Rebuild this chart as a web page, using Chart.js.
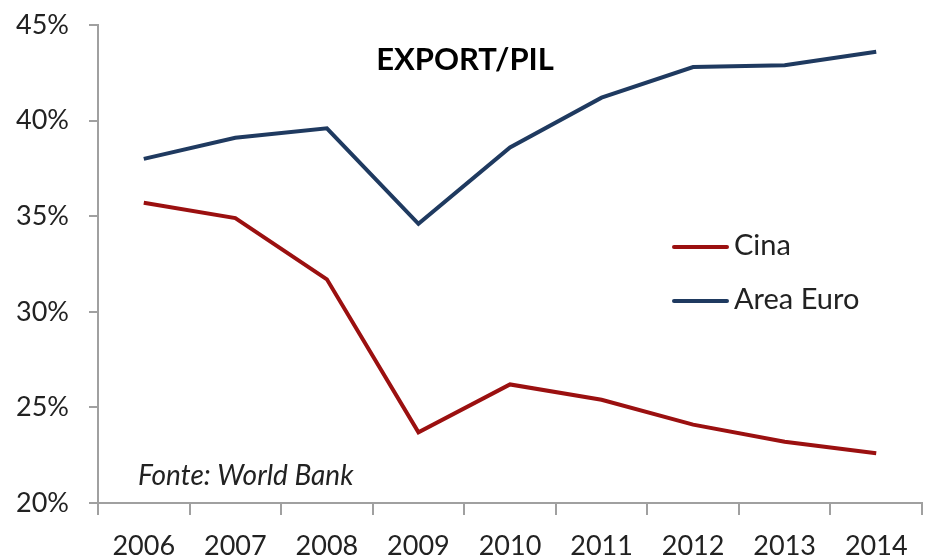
<!DOCTYPE html>
<html>
<head>
<meta charset="utf-8">
<script src="https://cdn.jsdelivr.net/npm/chart.js@4/dist/chart.umd.min.js"></script>
<style>
  html, body { margin: 0; padding: 0; background: #fff; }
  #wrap { width: 926px; height: 557px; }
</style>
</head>
<body>
<div id="wrap"><canvas id="export_chart"></canvas></div>
<script>
// Years along the x-axis
var years = ["2006","2007","2008","2009","2010","2011","2012","2013","2014"];

// Export as % of GDP
var cina = [35.7, 34.9, 31.7, 23.7, 26.2, 25.4, 24.1, 23.2, 22.6];
var areaEuro = [38.0, 39.1, 39.6, 34.6, 38.6, 41.2, 42.8, 42.9, 43.6];

var FONT = "Lato, 'Open Sans', sans-serif";
var AXIS_GREY = "#a0a0a0";

// title, source note and the legend drawn inside the plot area
var overlay = {
    id: "overlay",
    afterDraw: function (chart) {
        var c = chart.ctx;
        var a = chart.chartArea;
        c.save();
        c.fillStyle = "#000";
        c.textBaseline = "middle";
        c.textAlign = "center";
        c.font = "bold 31px " + FONT;
        c.fillText("EXPORT/PIL", 465, 60);

        c.textAlign = "left";
        c.font = "italic 28px " + FONT;
        c.fillStyle = "#222";
        c.fillText("Fonte: World Bank", a.left + 40, 476);

        c.font = "29px " + FONT;
        c.lineCap = "round";
        chart.data.datasets.forEach(function (ds, i) {
            var y = 246 + i * 54;
            c.strokeStyle = ds.borderColor;
            c.lineWidth = 4;
            c.beginPath();
            c.moveTo(674, y + 1);
            c.lineTo(727, y + 1);
            c.stroke();
            c.fillStyle = "#222";
            c.fillText(ds.label, 734, y);
        });
        c.restore();
    }
};

var ctx = document.getElementById("export_chart");
var myChart = new Chart(ctx, {
    type: "line",
    data: {
        labels: years,
        datasets: [
            {
                data: cina,
                label: "Cina",
                borderColor: "#9b1010",
                borderWidth: 4,
                pointRadius: 0,
                tension: 0,
                fill: false
            },
            {
                data: areaEuro,
                label: "Area Euro",
                borderColor: "#1f3a60",
                borderWidth: 4,
                pointRadius: 0,
                tension: 0,
                fill: false
            }
        ]
    },
    options: {
        responsive: true,
        maintainAspectRatio: false,
        animation: false,
        layout: { padding: { top: 25, right: 4, left: 0, bottom: 0 } },
        plugins: {
            legend: { display: false },
            tooltip: { enabled: false }
        },
        scales: {
            x: {
                offset: true,
                grid: {
                    offset: true,
                    drawOnChartArea: false,
                    drawTicks: true,
                    tickLength: 12,
                    color: AXIS_GREY,
                    lineWidth: 2
                },
                border: { color: AXIS_GREY, width: 2 },
                ticks: {
                    color: "#222",
                    font: { family: FONT, size: 27 },
                    padding: 15,
                    maxRotation: 0
                },
                afterFit: function (s) { s.height = 54; }
            },
            y: {
                min: 20,
                max: 45,
                grid: {
                    drawOnChartArea: false,
                    drawTicks: true,
                    tickLength: 9,
                    color: AXIS_GREY,
                    lineWidth: 2
                },
                border: { color: AXIS_GREY, width: 2 },
                ticks: {
                    stepSize: 5,
                    color: "#222",
                    font: { family: FONT, size: 27 },
                    padding: 20,
                    callback: function (v) { return v + "%"; }
                },
                afterFit: function (s) {
                    s.width = 98;
                    s.paddingTop = 0;
                    s.paddingBottom = 0;
                }
            }
        }
    },
    plugins: [overlay]
});
</script>
</body>
</html>
